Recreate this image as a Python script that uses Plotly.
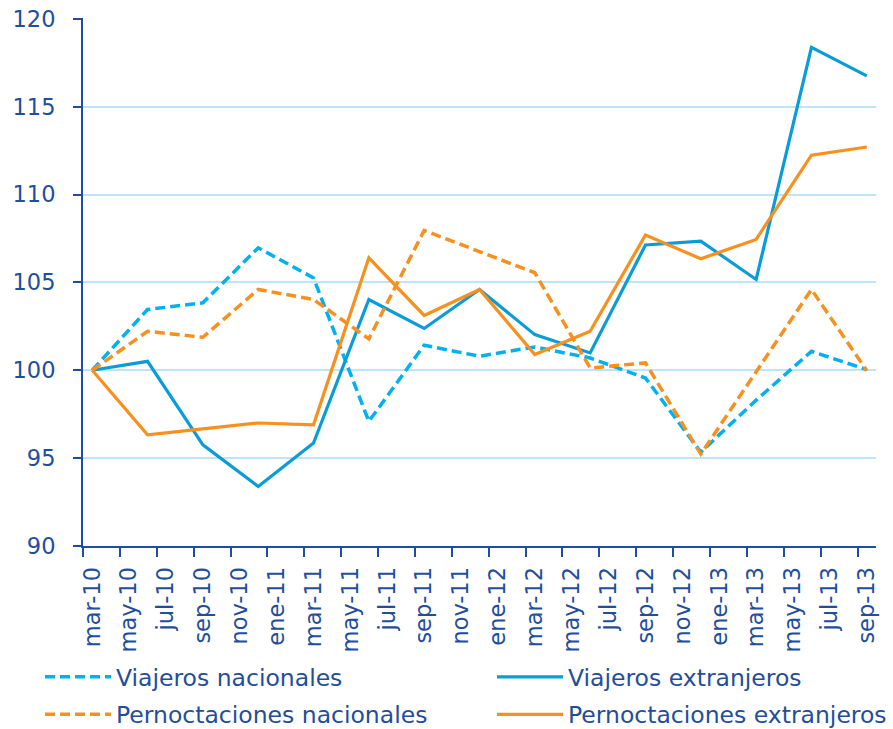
import plotly.graph_objects as go

# ---- data ----
periods = ["mar-10", "jun-10", "sep-10", "dic-10", "mar-11", "jun-11", "sep-11", "dic-11",
           "mar-12", "jun-12", "sep-12", "dic-12", "mar-13", "jun-13", "sep-13"]
viajeros_nacionales = [100, 103.46, 103.84, 106.97, 105.26, 97.09, 101.43, 100.8,
                       101.33, 100.7, 99.56, 95.34, 98.3, 101.08, 100.04]
viajeros_extranjeros = [100, 100.51, 95.76, 93.39, 95.86, 104.03, 102.38, 104.6,
                        102.03, 100.99, 107.13, 107.35, 105.17, 118.38, 116.76]
pernoctaciones_nacionales = [100, 102.22, 101.88, 104.6, 104.03, 101.79, 107.96, 106.78,
                             105.55, 100.13, 100.42, 95.23, 99.9, 104.6, 99.98]
pernoctaciones_extranjeros = [100, 96.33, 96.67, 97.0, 96.9, 106.4, 103.12, 104.6,
                              100.9, 102.22, 107.7, 106.35, 107.45, 112.24, 112.71]
tick_labels = ["mar-10", "may-10", "jul-10", "sep-10", "nov-10", "ene-11", "mar-11", "may-11",
               "jul-11", "sep-11", "nov-11", "ene-12", "mar-12", "may-12", "jul-12", "sep-12",
               "nov-12", "ene-13", "mar-13", "may-13", "jul-13", "sep-13"]

MES = {"ene": 1, "feb": 2, "mar": 3, "abr": 4, "may": 5, "jun": 6, "jul": 7, "ago": 8,
       "sep": 9, "oct": 10, "nov": 11, "dic": 12}


def month_index(lbl):
    m, y = lbl.split("-")
    return (int(y) - 10) * 12 + MES[m] - 3


x = [month_index(p) for p in periods]
tick_vals = [month_index(t) for t in tick_labels]

DARK = "#1F4E9C"
GRID = "#BEE5F7"
BLUE_D = "#00B0F0"
BLUE_S = "#0A9BD9"
ORANGE = "#F7901E"
FONT = "DejaVu Sans"

fig = go.Figure()
fig.add_trace(go.Scatter(x=x, y=viajeros_nacionales, mode="lines", name="Viajeros nacionales",
                         legend="legend", legendgroup="a",
                         line=dict(color=BLUE_D, width=3.5, dash="10px,5px")))
fig.add_trace(go.Scatter(x=x, y=viajeros_extranjeros, mode="lines", name="Viajeros extranjeros",
                         legend="legend2", legendgroup="b",
                         line=dict(color=BLUE_S, width=3.2)))
fig.add_trace(go.Scatter(x=x, y=pernoctaciones_nacionales, mode="lines", name="Pernoctaciones nacionales",
                         legend="legend", legendgroup="c",
                         line=dict(color=ORANGE, width=3.5, dash="10px,5px")))
fig.add_trace(go.Scatter(x=x, y=pernoctaciones_extranjeros, mode="lines", name="Pernoctaciones extranjeros",
                         legend="legend2", legendgroup="d",
                         line=dict(color=ORANGE, width=3.2)))

leg_common = dict(orientation="v", xref="container", yref="container",
                  yanchor="top", xanchor="left", y=1 - 655 / 729,
                  tracegroupgap=4, itemwidth=66,
                  font=dict(family=FONT, size=23.5, color=DARK),
                  bgcolor="rgba(0,0,0,0)")

fig.update_layout(
    width=893, height=729,
    margin=dict(l=83, r=17, t=18, b=183, autoexpand=False),
    plot_bgcolor="white", paper_bgcolor="white",
    font=dict(family=FONT, color=DARK),
    showlegend=True,
    legend=dict(x=40 / 893, **leg_common),
    legend2=dict(x=492 / 893, **leg_common),
)
fig.update_xaxes(
    range=[-0.5, 42.5], tickmode="array", tickvals=tick_vals, ticktext=tick_labels,
    tickangle=-90, tickfont=dict(family=FONT, size=22.5, color=DARK),
    ticks="outside", ticklen=10, tickcolor="rgba(0,0,0,0)",
    showgrid=False, zeroline=False, automargin=False,
    showline=True, linecolor=DARK, linewidth=2,
    minor=dict(tickmode="linear", tick0=-0.5, dtick=2, ticks="outside", ticklen=9,
               tickwidth=2, tickcolor=DARK, showgrid=False),
)
fig.update_yaxes(
    range=[90, 120.05], tickvals=[90, 95, 100, 105, 110, 115, 120],
    tickfont=dict(family=FONT, size=22.5, color=DARK),
    ticks="outside", ticklen=8, tickwidth=2, tickcolor=DARK,
    ticklabelstandoff=13, automargin=False, ticklabeloverflow="allow",
    showgrid=True, gridcolor=GRID, gridwidth=2, zeroline=False,
    showline=True, linecolor=DARK, linewidth=2,
)

fig.write_html("out.html", config={"displayModeBar": False},
               post_script="document.body.style.margin='0';")
